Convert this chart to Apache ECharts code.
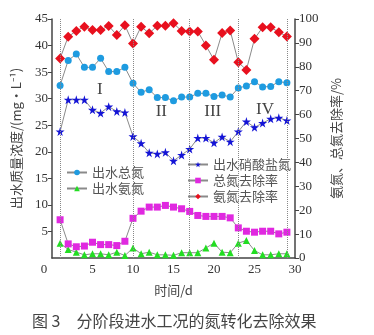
<!DOCTYPE html>
<html><head><meta charset="utf-8">
<script src="https://cdn.jsdelivr.net/npm/echarts@6/dist/echarts.min.js"></script>
<style>html,body{margin:0;padding:0;background:#fff}#c{width:374px;height:335px}</style>
</head><body><div id="c"></div>
<script>
const days = [1,2,3,4,5,6,7,8,9,10,11,12,13,14,15,16,17,18,19,20,21,22,23,24,25,26,27,28,29];
const tnEff  = [32.5,37.2,38.4,35.9,35.9,37.6,35.1,35.1,35.9,32.9,31.2,31.7,30.2,30.2,29.6,30.3,30.3,31.0,31.0,30.4,30.7,30.3,32.0,32.4,33.2,32.2,32.3,33.2,33.0];
const nh4Eff = [2.8,1.6,1.1,0.6,0.8,0.8,0.6,1.1,0.45,1.9,0.8,1.1,0.6,0.6,0.5,1.0,1.0,1.0,1.9,2.8,1.1,1.0,2.8,3.3,1.4,0.6,0.6,0.8,0.8];
const no3Eff = [23.8,29.8,29.8,29.8,27.9,27.3,28.5,27.6,27.4,22.9,21.6,19.8,19.6,19.9,18.3,19.4,20.5,22.6,22.6,21.7,22.8,21.9,23.8,25.7,24.6,25.4,26.2,26.4,25.9];
const tnRem  = [16.0,5.9,4.7,5.0,6.6,5.6,5.6,5.2,7.0,16.6,19.6,21.3,21.3,22.0,21.3,20.6,19.5,17.8,17.4,17.4,17.4,16.8,12.6,11.2,10.8,11.2,11.2,10.1,10.8];
const nh4Rem = [83.5,92.6,95.0,96.8,95.4,95.4,97.1,93.3,97.4,89.8,96.8,94.0,97.2,97.2,98.2,95.0,94.8,94.8,88.9,82.9,94.1,95.2,81.9,78.7,91.7,96.5,96.5,94.5,92.7];
const phaseLines = [1,10,17,23,29];
const phaseNames = ['I','II','III','IV'];
const phaseLabelX = [5.9,13.5,19.85,26.3];
const phaseLabelY = [31.7,27.5,27.5,27.9];
const seriesNames = ['出水总氮','出水氨氮','出水硝酸盐氮','总氮去除率','氨氮去除率'];

const pair = arr => days.map((d,i)=>[d,arr[i]]);
const serif = '"Liberation Serif","DejaVu Serif",serif';
const cjk = '"Noto Sans CJK SC","Noto Sans",sans-serif';
const star = 'path://M50,0 L61,35 L98,35 L68,57 L79,91 L50,70 L21,91 L32,57 L2,35 L39,35 Z';
const lineGray = '#8a8a8a';
const axisCol = '#444';

function mk(name, data, yIdx, symbol, size, color, extra){
  return Object.assign({
    name, type:'line', data: pair(data), yAxisIndex:yIdx,
    symbol, symbolSize:size,
    itemStyle:{color},
    lineStyle:{color:lineGray,width:1},
    emphasis:{disabled:true}, animation:false
  }, extra||{});
}

const chart = echarts.init(document.getElementById('c'), null, {renderer:'canvas'});
chart.setOption({
  animation:false,
  title:{
    text:'图 3　分阶段进水工况的氮转化去除效果',
    left:27, top:308,
    textStyle:{fontFamily:cjk, fontSize:16, fontWeight:'normal', color:'#444'}
  },
  grid:{left:52, right:79, top:19, bottom:77},
  legend:[
    {data:[seriesNames[0],seriesNames[1]], orient:'vertical', left:61, top:161,
     itemWidth:20, itemHeight:7, itemGap:3,
     textStyle:{fontFamily:cjk, fontSize:13, color:'#555'}},
    {data:[seriesNames[2],seriesNames[3],seriesNames[4]], orient:'vertical', left:182, top:153,
     itemWidth:20, itemHeight:7, itemGap:3,
     textStyle:{fontFamily:cjk, fontSize:13, color:'#555'}}
  ],
  xAxis:{
    type:'value', min:0, max:30, interval:5,
    name:'时间/d', nameLocation:'middle', nameGap:26,
    nameTextStyle:{fontFamily:cjk, fontSize:13, color:'#444'},
    axisLine:{lineStyle:{color:axisCol,width:1.5}},
    axisTick:{show:false},
    splitLine:{show:false},
    axisLabel:{fontFamily:serif, fontSize:13, color:'#333', margin:5,
      formatter: v => v===0 ? '{z|0}' : String(v),
      rich:{z:{fontFamily:serif, fontSize:13, color:'#333', padding:[0,16,0,0]}}}
  },
  yAxis:[
    {type:'value', min:0, max:45, interval:5, position:'left',
     name:'出水质量浓度/(mg·L⁻¹)', nameLocation:'middle', nameGap:29, nameRotate:90,
     nameTextStyle:{fontFamily:cjk, fontSize:13, color:'#444'},
     axisLine:{show:true, lineStyle:{color:axisCol,width:1.5}},
     axisTick:{show:true, length:4, lineStyle:{color:axisCol}},
     splitLine:{show:false},
     axisLabel:{fontFamily:serif, fontSize:13, color:'#333', margin:4, showMinLabel:false}},
    {type:'value', min:0, max:100, interval:10, position:'right',
     name:'氨氮、总氮去除率/%', nameLocation:'middle', nameGap:35, nameRotate:90,
     nameTextStyle:{fontFamily:cjk, fontSize:13, color:'#444'},
     axisLine:{show:true, lineStyle:{color:axisCol,width:1.5}},
     axisTick:{show:true, length:4, lineStyle:{color:axisCol}},
     splitLine:{show:false},
     axisLabel:{fontFamily:serif, fontSize:13, color:'#333', margin:4}}
  ],
  series:[
    mk(seriesNames[0], tnEff, 0, 'circle', 7, '#1e9be0', {
      markLine:{silent:true, symbol:['none','none'], label:{show:false},
        lineStyle:{color:'#888', type:'dotted', width:1},
        data: phaseLines.map(x=>({xAxis:x}))},
      markPoint:{silent:true, symbol:'circle', symbolSize:1, itemStyle:{color:'rgba(0,0,0,0)'},
        label:{show:true, position:'inside', fontFamily:serif, fontSize:17, color:'#444',
          formatter: p => p.name},
        data: phaseNames.map((n,i)=>({name:n, coord:[phaseLabelX[i], phaseLabelY[i]]}))}
    }),
    mk(seriesNames[1], nh4Eff, 0, 'triangle', 7, '#22dd22'),
    mk(seriesNames[2], no3Eff, 0, star, 9, '#1414d6'),
    mk(seriesNames[3], tnRem, 1, 'rect', 7, '#e028e0'),
    mk(seriesNames[4], nh4Rem, 1, 'diamond', 10, '#e8101e')
  ]
});
</script></body></html>
